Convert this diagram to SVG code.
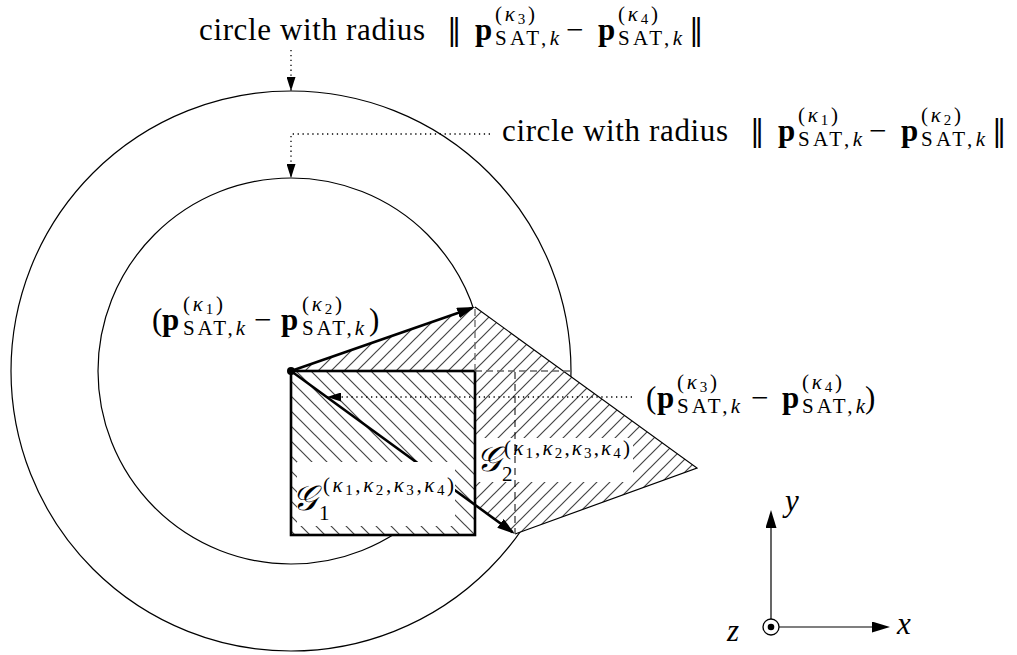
<svg xmlns="http://www.w3.org/2000/svg" width="1017" height="655" viewBox="0 0 1017 655">
<style>
.t{font-family:"Liberation Serif","DejaVu Serif",serif;fill:#000}
.m{font-size:31px}.s{font-size:21px}.ss{font-size:15px}
.b{font-weight:bold}.i{font-style:italic}
.pp{font-family:"DejaVu Serif","Liberation Serif",serif;font-size:29px}
.cal{font-family:"DejaVu Sans","DejaVu Serif","Noto Sans",serif;font-size:35px;font-style:italic}
.thin{fill:none;stroke:#000;stroke-width:1.2}
.thick{fill:none;stroke:#000;stroke-width:2.6}
.dot{fill:none;stroke:#000;stroke-width:1.3;stroke-dasharray:1.3 3.6}
.gdash{fill:none;stroke:#666;stroke-width:1.3;stroke-dasharray:7 4}
.kdash{fill:none;stroke:#000;stroke-width:1;stroke-dasharray:7 5}
</style>
<defs>
<pattern id="hatchB" patternUnits="userSpaceOnUse" width="15" height="15">
<path d="M-2,-2 L17,17 M-2,13 L2,17 M13,-2 L17,2" stroke="#444" stroke-width="1.2"/>
</pattern>
<pattern id="hatchF" patternUnits="userSpaceOnUse" width="13" height="13">
<path d="M-2,15 L15,-2 M-2,2 L2,-2 M11,15 L15,11" stroke="#444" stroke-width="1.2"/>
</pattern>
<marker id="hb" markerUnits="userSpaceOnUse" markerWidth="18" markerHeight="11" refX="15" refY="5.5" orient="auto">
<path d="M0,0 L18,5.5 L0,11 Z" fill="#000"/>
</marker>
<marker id="hl" markerUnits="userSpaceOnUse" markerWidth="14" markerHeight="9" refX="14" refY="4.5" orient="auto">
<path d="M0,0 L14,4.5 L0,9 Z" fill="#000"/>
</marker>
</defs>

<g id="outer-circle"><circle class="thin" cx="291" cy="371" r="280"/></g>
<g id="inner-circle"><circle class="thin" cx="291" cy="371" r="193"/></g>

<g id="region-G2">
<polygon points="291,371 475,307 697,468 515,534" fill="#fff"/>
<polygon points="291,371 475,307 697,468 515,534" fill="url(#hatchF)"/>
<path class="thin" d="M475,307 L697,468 L515,534"/>
</g>

<g id="region-G1">
<rect x="291" y="371" width="184" height="164" fill="#fff"/>
<rect x="291" y="371" width="184" height="164" fill="url(#hatchB)"/>
</g>

<g id="vector-2">
<line class="thick" x1="291" y1="371" x2="512.6" y2="532.2" marker-end="url(#hb)"/>
</g>

<g id="label-boxes">
<rect x="297" y="462" width="158" height="64" fill="#fff"/>
<rect x="476" y="438" width="157" height="44" fill="#fff"/>
</g>

<g id="G1-border"><rect class="thick" x="291" y="371" width="184" height="164"/></g>

<g id="vector-1">
<line class="thick" x1="291" y1="371" x2="472.2" y2="308" marker-end="url(#hb)"/>
</g>

<g id="guides">
<line class="gdash" x1="475" y1="309" x2="475" y2="371"/>
<line class="gdash" x1="475" y1="371" x2="570" y2="371"/>
<line class="kdash" x1="515" y1="372" x2="515" y2="533"/>
</g>

<g id="connectors">
<path class="dot" d="M291,50 L291,91" marker-end="url(#hl)"/>
<path class="dot" d="M490,134 L291,134 L291,178" marker-end="url(#hl)"/>
<path class="dot" d="M632,397 L327,397" marker-end="url(#hl)"/>
</g>

<g id="origin"><circle cx="291" cy="371" r="4" fill="#000"/></g>

<g id="label-top">
<text class="t m" x="199" y="40" textLength="226">circle with radius</text>
<text class="t pp" x="447" y="40">‖</text>
<text class="t m b" x="475" y="40">p</text>
<text class="t s" x="495" y="21" textLength="40">(<tspan class="i">κ</tspan><tspan class="ss" dy="3">3</tspan><tspan dy="-3">)</tspan></text>
<text class="t s" x="495" y="45" textLength="64">SAT,<tspan class="i">k</tspan></text>
<text class="t m" x="566" y="40">−</text>
<text class="t m b" x="598" y="40">p</text>
<text class="t s" x="618" y="21" textLength="40">(<tspan class="i">κ</tspan><tspan class="ss" dy="3">4</tspan><tspan dy="-3">)</tspan></text>
<text class="t s" x="618" y="45" textLength="64">SAT,<tspan class="i">k</tspan></text>
<text class="t pp" x="689" y="40">‖</text>
</g>

<g id="label-inner">
<text class="t m" x="502" y="141" textLength="226">circle with radius</text>
<text class="t pp" x="750" y="141">‖</text>
<text class="t m b" x="778" y="141">p</text>
<text class="t s" x="798" y="122" textLength="40">(<tspan class="i">κ</tspan><tspan class="ss" dy="3">1</tspan><tspan dy="-3">)</tspan></text>
<text class="t s" x="798" y="146" textLength="64">SAT,<tspan class="i">k</tspan></text>
<text class="t m" x="869" y="141">−</text>
<text class="t m b" x="901" y="141">p</text>
<text class="t s" x="921" y="122" textLength="40">(<tspan class="i">κ</tspan><tspan class="ss" dy="3">2</tspan><tspan dy="-3">)</tspan></text>
<text class="t s" x="921" y="146" textLength="64">SAT,<tspan class="i">k</tspan></text>
<text class="t pp" x="992" y="141">‖</text>
</g>

<g id="label-v1">
<text class="t m" x="152" y="330">(</text>
<text class="t m b" x="162" y="330">p</text>
<text class="t s" x="183" y="311" textLength="40">(<tspan class="i">κ</tspan><tspan class="ss" dy="3">1</tspan><tspan dy="-3">)</tspan></text>
<text class="t s" x="183" y="335" textLength="62">SAT,<tspan class="i">k</tspan></text>
<text class="t m" x="254" y="330">−</text>
<text class="t m b" x="281" y="330">p</text>
<text class="t s" x="302" y="311" textLength="40">(<tspan class="i">κ</tspan><tspan class="ss" dy="3">2</tspan><tspan dy="-3">)</tspan></text>
<text class="t s" x="302" y="335" textLength="62">SAT,<tspan class="i">k</tspan></text>
<text class="t m" x="369" y="330">)</text>
</g>

<g id="label-v2">
<text class="t m" x="646" y="408">(</text>
<text class="t m b" x="657" y="408">p</text>
<text class="t s" x="677" y="389" textLength="40">(<tspan class="i">κ</tspan><tspan class="ss" dy="3">3</tspan><tspan dy="-3">)</tspan></text>
<text class="t s" x="677" y="413" textLength="63">SAT,<tspan class="i">k</tspan></text>
<text class="t m" x="751" y="408">−</text>
<text class="t m b" x="782" y="408">p</text>
<text class="t s" x="802" y="389" textLength="40">(<tspan class="i">κ</tspan><tspan class="ss" dy="3">4</tspan><tspan dy="-3">)</tspan></text>
<text class="t s" x="802" y="413" textLength="63">SAT,<tspan class="i">k</tspan></text>
<text class="t m" x="865" y="408">)</text>
</g>

<g id="label-G1">
<text class="t cal" x="292" y="510">𝒢</text>
<text class="t s" x="319" y="520">1</text>
<text class="t s" x="323" y="492" textLength="131">(<tspan class="i">κ</tspan><tspan class="ss" dy="3">1</tspan><tspan dy="-3">,</tspan><tspan class="i">κ</tspan><tspan class="ss" dy="3">2</tspan><tspan dy="-3">,</tspan><tspan class="i">κ</tspan><tspan class="ss" dy="3">3</tspan><tspan dy="-3">,</tspan><tspan class="i">κ</tspan><tspan class="ss" dy="3">4</tspan><tspan dy="-3">)</tspan></text>
</g>

<g id="label-G2">
<text class="t cal" x="476" y="471">𝒢</text>
<text class="t s" x="502" y="481">2</text>
<text class="t s" x="504" y="455" textLength="126">(<tspan class="i">κ</tspan><tspan class="ss" dy="3">1</tspan><tspan dy="-3">,</tspan><tspan class="i">κ</tspan><tspan class="ss" dy="3">2</tspan><tspan dy="-3">,</tspan><tspan class="i">κ</tspan><tspan class="ss" dy="3">3</tspan><tspan dy="-3">,</tspan><tspan class="i">κ</tspan><tspan class="ss" dy="3">4</tspan><tspan dy="-3">)</tspan></text>
</g>

<g id="axes">
<circle cx="771" cy="627" r="8" fill="none" stroke="#000" stroke-width="1.3"/>
<circle cx="771" cy="627" r="3.3" fill="#000"/>
<line class="thin" x1="771" y1="619" x2="771" y2="513" marker-end="url(#hb)"/>
<line class="thin" x1="779" y1="627" x2="887" y2="627" marker-end="url(#hb)"/>
<text class="t m i" x="785" y="511">y</text>
<text class="t m i" x="897" y="634">x</text>
<text class="t m i" x="727" y="641">z</text>
</g>
</svg>
